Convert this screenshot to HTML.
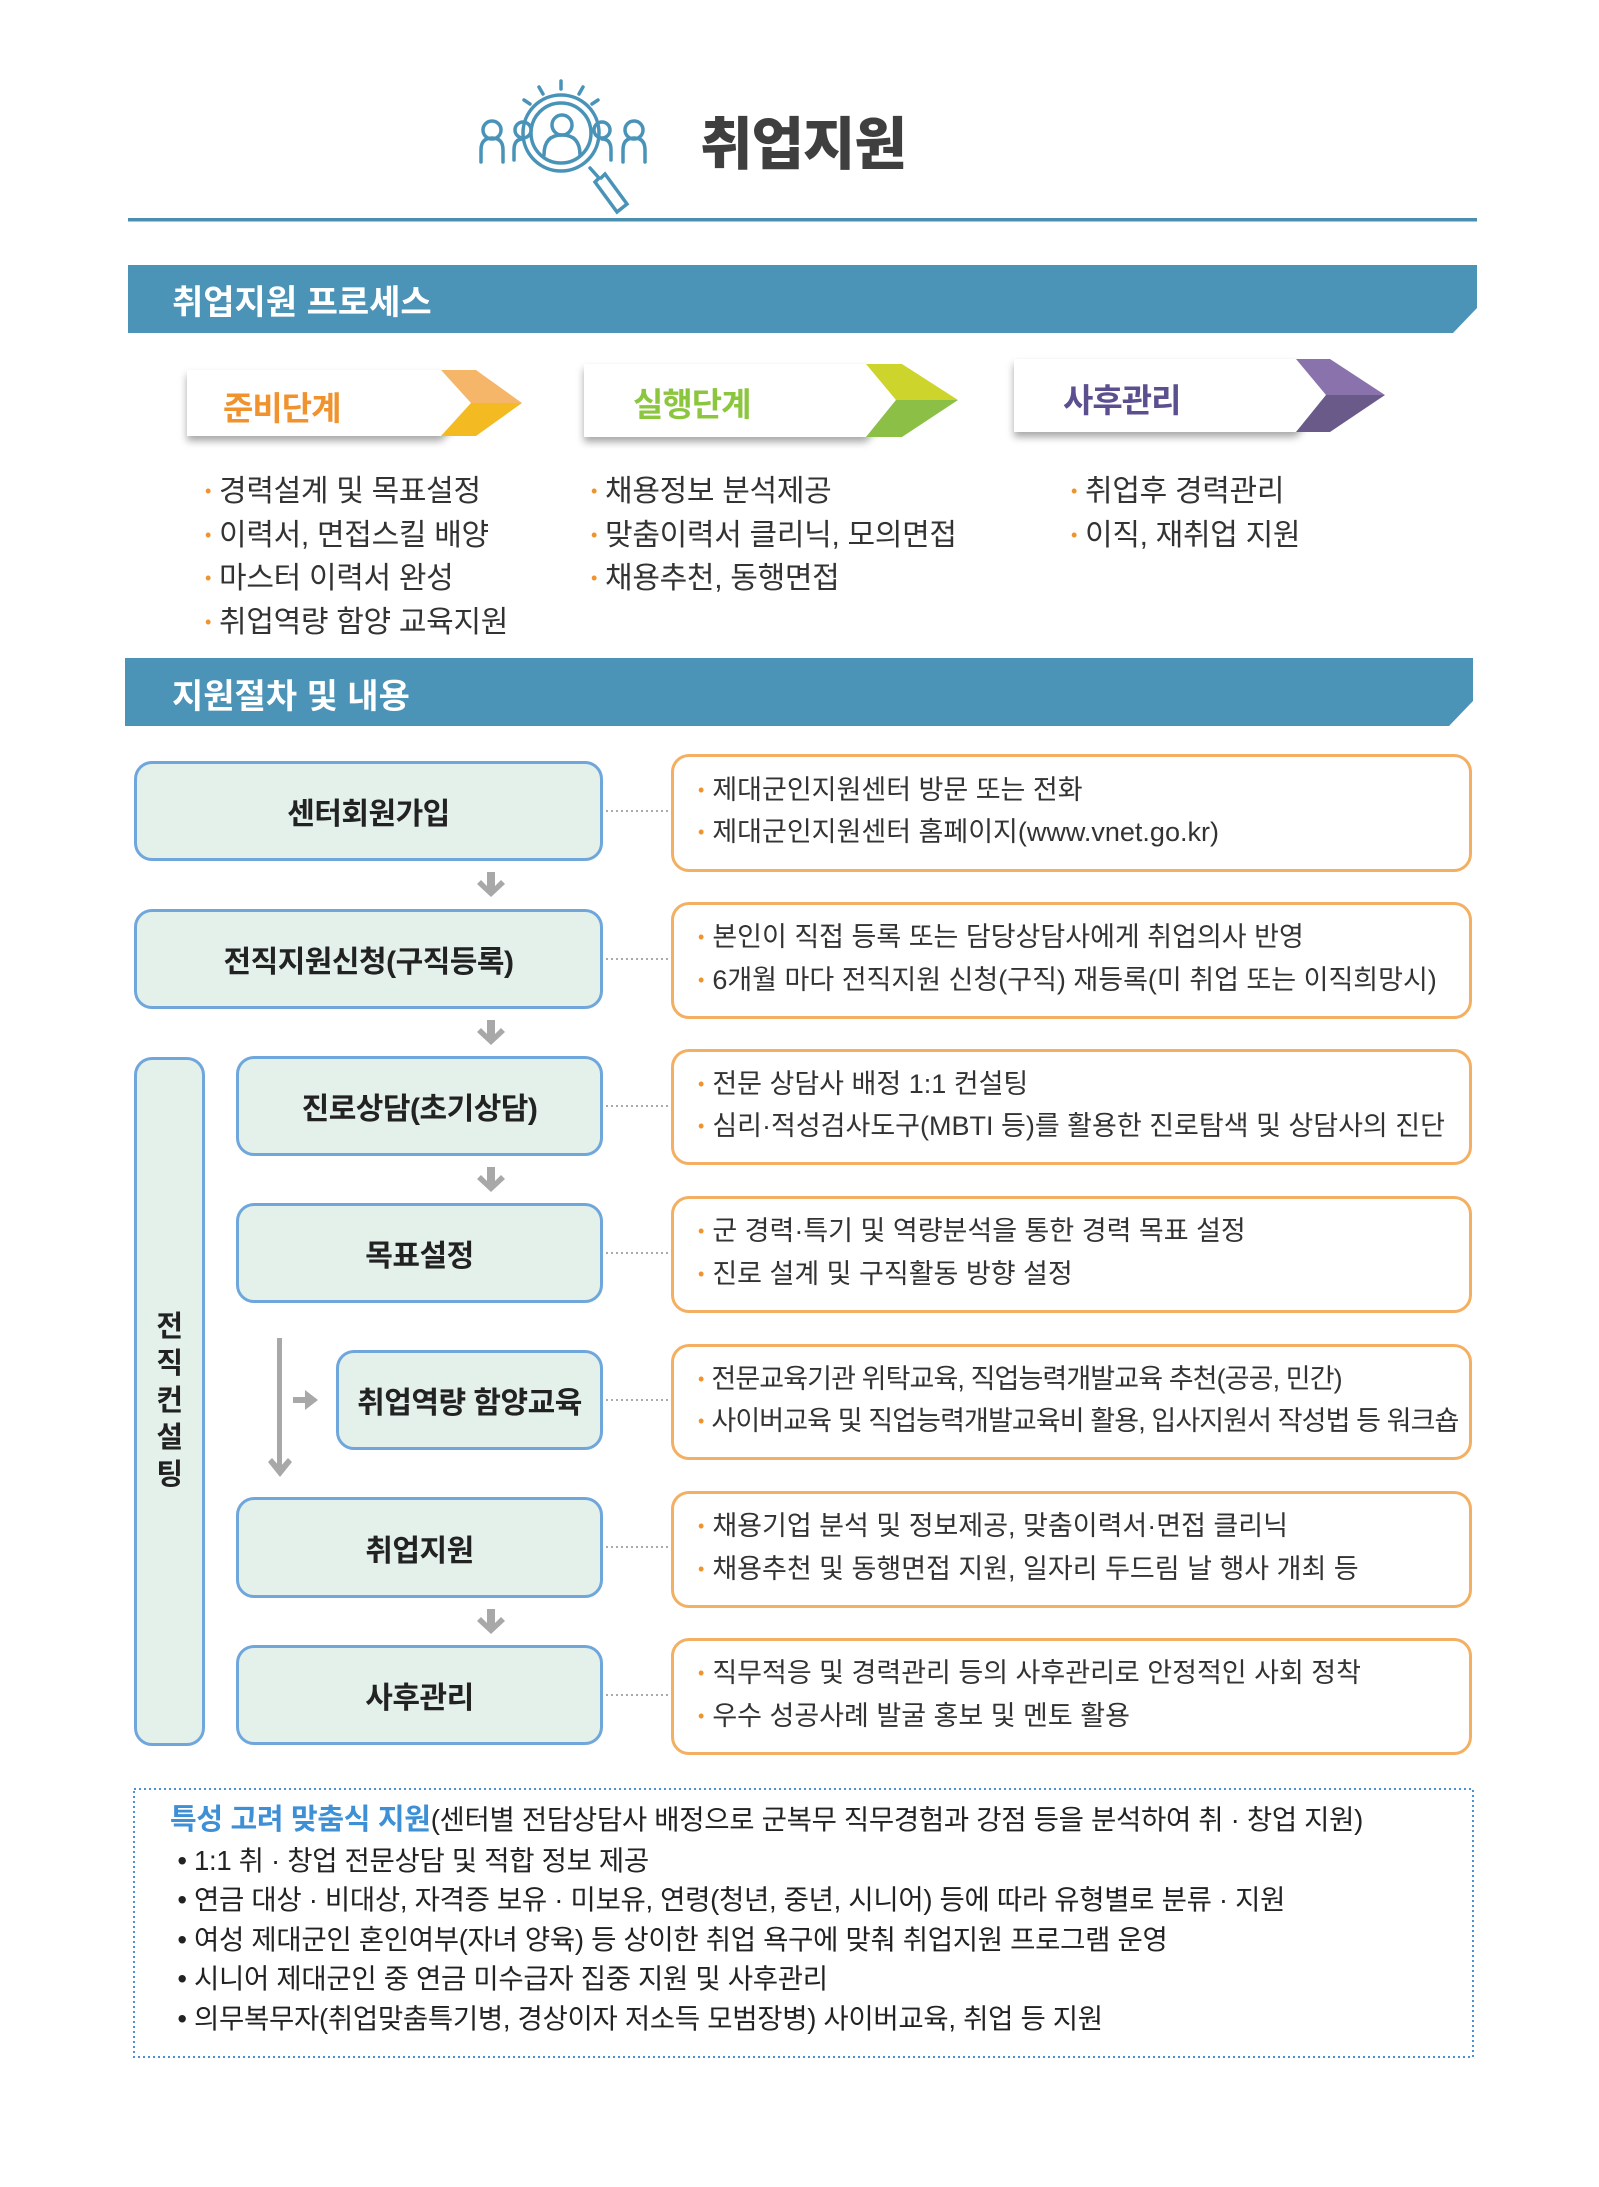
<!DOCTYPE html>
<html><head><meta charset="utf-8"><style>
*{margin:0;padding:0;box-sizing:border-box}
body{width:1599px;height:2187px;background:#fff;position:relative;overflow:hidden;font-family:"Liberation Sans","Noto Sans CJK KR",sans-serif;color:#333}
.a{position:absolute;white-space:nowrap}
.lb{position:absolute;background:#e4f0ea;border:3px solid #6fa7dc;border-radius:18px;display:flex;align-items:center;justify-content:center;font-weight:700;font-size:30px;color:#222;letter-spacing:-0.5px}
.rb{position:absolute;left:671px;width:801px;background:#fff;border:3px solid #f3af62;border-radius:18px;display:flex;flex-direction:column;justify-content:center;padding-left:24px;font-size:27px;line-height:39.5px;color:#333;letter-spacing:0px;white-space:nowrap;overflow:hidden}
.rb div::before{content:"•";color:#f0922e;font-size:18px;margin-right:8px;position:relative;top:-3px}
.pl{font-size:30px;line-height:39.5px;color:#333;letter-spacing:-0.3px}
.pl div::before{content:"•";color:#f0922e;font-size:18px;margin-right:8px;position:relative;top:-4px}
.bt{font-size:27.5px;line-height:39.5px;color:#222;letter-spacing:-0.3px}
</style></head><body>
<svg class="a" style="left:0;top:0" width="1599" height="2187" viewBox="0 0 1599 2187">
<defs><filter id="sh" x="-10%" y="-20%" width="120%" height="160%"><feDropShadow dx="0" dy="5" stdDeviation="4" flood-color="#000" flood-opacity="0.35"/></filter></defs>
<g fill="none" stroke="#4a93b8" stroke-width="3.5" stroke-linecap="round">
<circle cx="561" cy="133" r="38"/>
<circle cx="561" cy="133" r="30"/>
<circle cx="562" cy="125" r="10"/>
<path d="M544 155 q0-20 18-20 q18 0 18 20"/>
<circle cx="492" cy="130" r="9"/><path d="M481 162 v-12 q0-12 11-12 q11 0 11 12 v12"/>
<circle cx="523" cy="130" r="8"/><path d="M514 160 v-10 q0-11 9-11"/>
<circle cx="602" cy="130" r="8"/><path d="M611 160 v-10 q0-11-9-11"/>
<circle cx="634" cy="130" r="9"/><path d="M623 162 v-12 q0-12 11-12 q11 0 11 12 v12"/>
<path d="M590 168 l9 10 l-4 4 l22 30 l10-8 l-22-30 l-4 4"/>
<path d="M561 89 v-8 M543 94 l-4-7 M579 94 l4-7 M530 104 l-6-4 M592 104 l6-4"/>
</g>
<rect x="128" y="218" width="1349" height="3.5" fill="#4a8fb0"/>
<polygon points="128,265 1477,265 1477,308 1453,333 128,333" fill="#4b93b7"/>
<polygon points="125,658 1473,658 1473,701 1449,726 125,726" fill="#4b93b7"/>
<polygon filter="url(#sh)" points="187,370 441,370 471,403 441,436 187,436" fill="#fff"/>
<polygon points="441,370 476,370 522,403 471,403" fill="#f6b66a"/>
<polygon points="471,403 522,403 476,436 441,436" fill="#f3bb21"/>
<polygon filter="url(#sh)" points="584,364 866,364 896,400 866,437 584,437" fill="#fff"/>
<polygon points="866,364 902,364 958,400 896,400" fill="#cdd52c"/>
<polygon points="896,400 958,400 902,437 866,437" fill="#8bbf45"/>
<polygon filter="url(#sh)" points="1014,359 1296,359 1326,395 1296,432 1014,432" fill="#fff"/>
<polygon points="1296,359 1330,359 1385,395 1326,395" fill="#8a73ad"/>
<polygon points="1326,395 1385,395 1330,432 1296,432" fill="#6a5a8a"/>
<g stroke="#aaa" stroke-width="2" stroke-dasharray="2 3">
<line x1="606" y1="811" x2="670" y2="811"/>
<line x1="606" y1="959" x2="670" y2="959"/>
<line x1="606" y1="1106" x2="670" y2="1106"/>
<line x1="606" y1="1253" x2="670" y2="1253"/>
<line x1="606" y1="1400" x2="670" y2="1400"/>
<line x1="606" y1="1547" x2="670" y2="1547"/>
<line x1="606" y1="1695" x2="670" y2="1695"/>
</g>
<g fill="#a8a8a8">
<path d="M487 872 h8 v14 l6-6 l4 4 l-14 13 l-14-13 l4-4 l6 6z"/>
<path d="M487 1020 h8 v14 l6-6 l4 4 l-14 13 l-14-13 l4-4 l6 6z"/>
<path d="M487 1167 h8 v14 l6-6 l4 4 l-14 13 l-14-13 l4-4 l6 6z"/>
<path d="M487 1609 h8 v14 l6-6 l4 4 l-14 13 l-14-13 l4-4 l6 6z"/>
<rect x="277" y="1338" width="5" height="135"/>
<path d="M268 1462 l4-4 l8 9 l8-9 l4 4 l-12 15z"/>
<path d="M293 1397 h12 v-7 l13 10 l-13 10 v-7 h-12z"/>
</g>
<rect x="134" y="1789" width="1339" height="268" fill="none" stroke="#4b8fd6" stroke-width="2" stroke-dasharray="2 3"/>
</svg>
<div class="a" style="left:700px;top:99px;font-size:57px;font-weight:900;color:#3f3f3f;letter-spacing:-1px">취업지원</div>
<div class="a" style="left:172px;top:275px;font-size:34px;font-weight:700;color:#fff">취업지원 프로세스</div>
<div class="a" style="left:172px;top:669px;font-size:34px;font-weight:700;color:#fff">지원절차 및 내용</div>
<div class="a" style="left:223px;top:382px;font-size:33px;font-weight:700;color:#f0922e;letter-spacing:-1px">준비단계</div>
<div class="a" style="left:633px;top:378px;font-size:33px;font-weight:700;color:#8cc63f;letter-spacing:-1px">실행단계</div>
<div class="a" style="left:1063px;top:374px;font-size:33px;font-weight:700;color:#5b4f8f;letter-spacing:-1px">사후관리</div>
<div class="a pl" style="left:205px;top:472px"><div>경력설계 및 목표설정</div><div>이력서, 면접스킬 배양</div><div>마스터 이력서 완성</div><div>취업역량 함양 교육지원</div></div>
<div class="a pl" style="left:591px;top:472px"><div>채용정보 분석제공</div><div>맞춤이력서 클리닉, 모의면접</div><div>채용추천, 동행면접</div></div>
<div class="a pl" style="left:1071px;top:472px"><div>취업후 경력관리</div><div>이직, 재취업 지원</div></div>

<div class="lb" style="left:134px;top:761px;width:469px;height:100px">센터회원가입</div>
<div class="lb" style="left:134px;top:909px;width:469px;height:100px">전직지원신청(구직등록)</div>
<div class="lb" style="left:134px;top:1057px;width:71px;height:689px;flex-direction:column;line-height:37px;font-size:29px">전<br>직<br>컨<br>설<br>팅</div>
<div class="lb" style="left:236px;top:1056px;width:367px;height:100px">진로상담(초기상담)</div>
<div class="lb" style="left:236px;top:1203px;width:367px;height:100px">목표설정</div>
<div class="lb" style="left:336px;top:1350px;width:267px;height:100px">취업역량 함양교육</div>
<div class="lb" style="left:236px;top:1497px;width:367px;height:101px">취업지원</div>
<div class="lb" style="left:236px;top:1645px;width:367px;height:100px">사후관리</div>

<div class="rb" style="top:754px;height:118px"><div>제대군인지원센터 방문 또는 전화</div><div>제대군인지원센터 홈페이지(www.vnet.go.kr)</div></div>
<div class="rb" style="top:902px;height:117px"><div>본인이 직접 등록 또는 담당상담사에게 취업의사 반영</div><div>6개월 마다 전직지원 신청(구직) 재등록(미 취업 또는 이직희망시)</div></div>
<div class="rb" style="top:1049px;height:116px"><div>전문 상담사 배정 1:1 컨설팅</div><div>심리·적성검사도구(MBTI 등)를 활용한 진로탐색 및 상담사의 진단</div></div>
<div class="rb" style="top:1196px;height:117px"><div>군 경력·특기 및 역량분석을 통한 경력 목표 설정</div><div>진로 설계 및 구직활동 방향 설정</div></div>
<div class="rb" style="top:1344px;height:116px;letter-spacing:-0.9px"><div>전문교육기관 위탁교육, 직업능력개발교육 추천(공공, 민간)</div><div>사이버교육 및 직업능력개발교육비 활용, 입사지원서 작성법 등 워크숍</div></div>
<div class="rb" style="top:1491px;height:117px"><div>채용기업 분석 및 정보제공, 맞춤이력서·면접 클리닉</div><div>채용추천 및 동행면접 지원, 일자리 두드림 날 행사 개최 등</div></div>
<div class="rb" style="top:1638px;height:117px"><div>직무적응 및 경력관리 등의 사후관리로 안정적인 사회 정착</div><div>우수 성공사례 발굴 홍보 및 멘토 활용</div></div>

<div class="a bt" style="left:170px;top:1800px"><span style="color:#3d8fd6;font-weight:700;font-size:29px">특성 고려 맞춤식 지원</span>(센터별 전담상담사 배정으로 군복무 직무경험과 강점 등을 분석하여 취 · 창업 지원)<br>
&nbsp;• 1:1 취 · 창업 전문상담 및 적합 정보 제공<br>
&nbsp;• 연금 대상 · 비대상, 자격증 보유 · 미보유, 연령(청년, 중년, 시니어) 등에 따라 유형별로 분류 · 지원<br>
&nbsp;• 여성 제대군인 혼인여부(자녀 양육) 등 상이한 취업 욕구에 맞춰 취업지원 프로그램 운영<br>
&nbsp;• 시니어 제대군인 중 연금 미수급자 집중 지원 및 사후관리<br>
&nbsp;• 의무복무자(취업맞춤특기병, 경상이자 저소득 모범장병) 사이버교육, 취업 등 지원</div>
</body></html>
